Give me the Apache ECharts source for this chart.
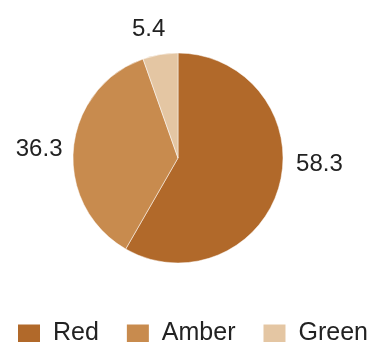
<!DOCTYPE html>
<html><head><meta charset="utf-8">
<script src="https://cdn.jsdelivr.net/npm/echarts@6/dist/echarts.min.js"></script>
<style>html,body{margin:0;padding:0;background:#fff}#c{width:371px;height:342px}</style>
</head><body><div id="c"></div>
<script>
const categories = ["Red", "Amber", "Green"];
const values = [58.3, 36.3, 5.4];
const colors = ["#B1692A", "#C88B4E", "#E4C6A3"];
const labelShift = [[0, -24], [6, 2], [12, -13]];
const chart = echarts.init(document.getElementById('c'));
chart.setOption({
  animation: false,
  color: colors,
  textStyle: {fontFamily: "Liberation Sans, Arial, sans-serif"},
  legend: {
    bottom: -4, left: 16, width: 360, padding: 0,
    itemWidth: 24, itemHeight: 20, itemGap: 26,
    icon: 'rect',
    textStyle: {fontSize: 25, color: '#222', padding: [0, 0, 0, 7], fontFamily: "Liberation Sans, Arial, sans-serif"},
    data: categories
  },
  series: [{
    type: 'pie',
    center: [178, 158],
    radius: 105,
    startAngle: 90,
    clockwise: true,
    data: categories.map((n, i) => ({name: n, value: values[i]})),
    label: {show: true, position: 'outside', overflow: 'none', edgeDistance: 0, formatter: p => p.value.toFixed(1), fontSize: 24, color: '#222', fontFamily: "Liberation Sans, Arial, sans-serif"},
    labelLine: {show: false, length: 12, length2: 0},
    labelLayout: p => ({dx: labelShift[p.dataIndex][0], dy: labelShift[p.dataIndex][1]}),
    itemStyle: {borderColor: '#fff', borderWidth: 0.5},
    emphasis: {disabled: true}
  }]
});
</script></body></html>
